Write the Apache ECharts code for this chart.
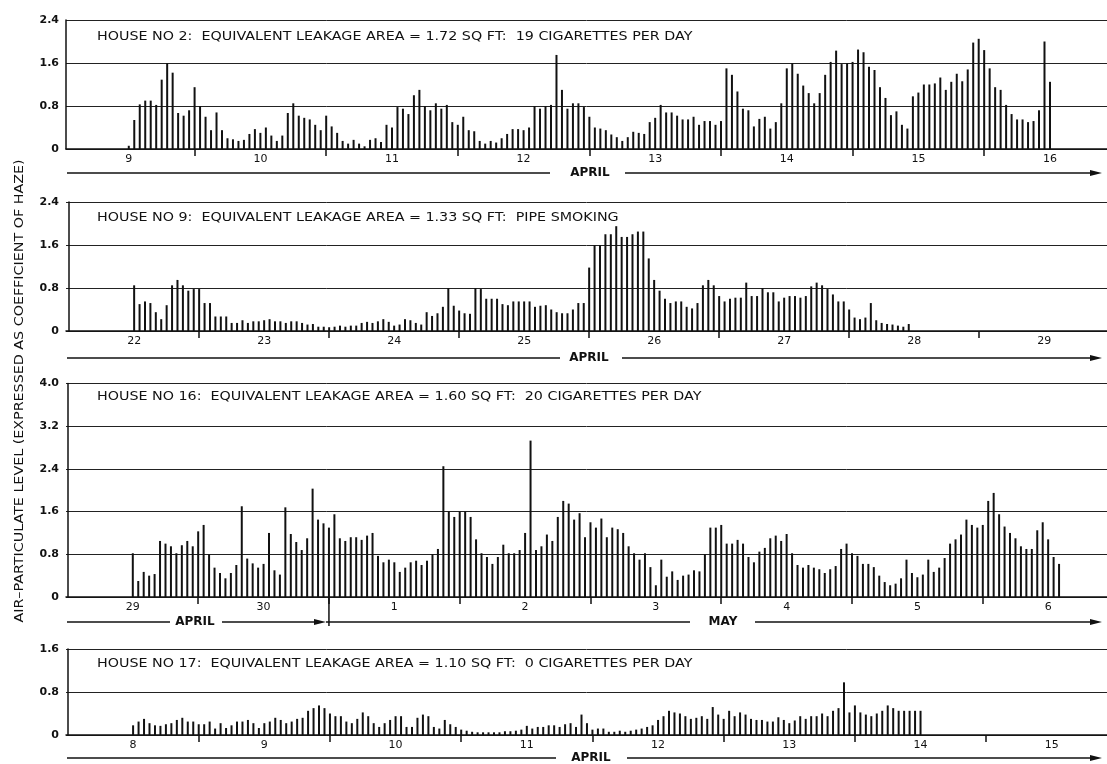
<!DOCTYPE html>
<html><head><meta charset="utf-8">
<script src="https://cdn.jsdelivr.net/npm/echarts@6/dist/echarts.min.js"></script>
<style>html,body{margin:0;padding:0;background:#fff}#c{width:1107px;height:764px}</style>
</head><body><div id="c"></div>
<script>
// ---------- DATA (hourly readings; hour 0 = midnight starting first labelled day) ----------
const house2Start = 12;
const house2Values = [0.06,0.54,0.83,0.9,0.9,0.82,1.29,1.6,1.42,0.67,0.62,0.72,1.15,0.8,0.6,0.35,0.68,0.35,0.2,0.18,0.15,0.17,0.28,0.37,0.3,0.4,0.25,0.15,0.25,0.67,0.85,0.62,0.58,0.55,0.45,0.35,0.62,0.42,0.3,0.15,0.1,0.17,0.1,0.05,0.17,0.2,0.13,0.45,0.4,0.78,0.75,0.65,
1.0,1.1,0.8,0.72,0.85,0.75,0.82,0.5,0.45,0.6,0.35,0.33,0.15,0.1,0.15,0.12,0.2,0.28,0.37,0.37,0.35,0.4,0.8,0.75,0.8,0.82,1.75,1.1,0.75,0.85,0.85,0.78,0.6,0.4,0.38,0.35,0.27,0.22,0.15,0.22,0.32,0.3,0.28,0.5,0.58,0.82,0.68,0.68,0.62,0.55,0.55,0.6,0.45,0.52,0.52,0.45,0.52,1.5,1.38,1.07,0.75,0.72,
0.42,0.56,0.6,0.38,0.5,0.85,1.5,1.6,1.4,1.18,1.04,0.85,1.04,1.38,1.62,1.83,1.58,1.6,1.62,1.85,1.8,1.53,1.47,1.15,0.95,0.63,0.7,0.45,0.38,0.98,1.05,1.2,1.2,1.22,1.33,1.1,1.25,1.4,1.26,1.48,1.98,2.05,1.84,1.5,1.15,1.1,0.82,0.65,0.55,0.55,0.5,0.52,0.72,2.0,1.25];

const house9Start = 12;
const house9Values = [0.85,0.5,0.55,0.52,0.35,0.22,0.48,0.85,0.95,0.85,0.75,0.78,0.78,0.52,0.52,0.27,0.27,0.27,0.15,0.15,0.2,0.15,0.18,0.18,0.2,0.22,0.18,0.18,0.15,0.18,0.18,0.15,0.12,0.13,0.08,0.08,0.07,0.08,0.1,0.08,0.1,0.1,0.15,0.17,0.15,0.18,0.22,0.17,
0.1,0.12,0.22,0.2,0.15,0.12,0.35,0.28,0.33,0.45,0.8,0.47,0.38,0.33,0.32,0.8,0.78,0.6,0.6,0.6,0.5,0.48,0.55,0.55,0.55,0.55,0.45,0.47,0.48,0.4,0.35,0.33,0.33,0.4,0.52,0.52,1.18,1.6,1.6,1.8,1.8,1.95,1.75,1.75,1.8,1.85,1.85,1.35,0.95,0.75,0.6,0.52,0.55,0.55,0.45,0.42,0.52,0.85,0.95,0.85,0.65,0.55,0.6,0.62,0.62,
0.9,0.65,0.65,0.8,0.72,0.72,0.55,0.62,0.65,0.65,0.62,0.65,0.83,0.9,0.85,0.78,0.68,0.55,0.55,0.4,0.25,0.22,0.25,0.52,0.2,0.15,0.13,0.12,0.1,0.08,0.13];

const house16Start = 12;
const house16Values = [0.82,0.3,0.47,0.4,0.43,1.05,1.0,0.95,0.82,0.97,1.05,0.95,1.23,1.35,0.8,0.55,0.45,0.35,0.45,0.6,1.7,0.72,0.63,0.55,0.62,1.2,0.5,0.42,1.68,1.18,1.03,0.88,1.1,2.03,1.45,1.38,1.3,1.55,1.1,1.05,1.12,1.12,1.07,1.15,1.2,0.77,0.65,0.7,0.65,
0.47,0.55,0.65,0.68,0.6,0.68,0.8,0.9,2.45,1.6,1.5,1.6,1.6,1.5,1.08,0.82,0.75,0.62,0.75,0.98,0.82,0.82,0.88,1.2,2.93,0.88,0.95,1.17,1.05,1.5,1.8,1.75,1.45,1.57,1.12,1.4,1.3,1.47,1.12,1.3,1.27,1.2,0.95,0.82,0.7,0.82,0.56,0.22,0.7,0.38,0.48,0.32,0.4,0.42,0.5,0.48,0.8,1.3,1.3,1.35,1.0,1.0,1.07,1.0,
0.75,0.65,0.85,0.92,1.1,1.15,1.05,1.18,0.82,0.6,0.55,0.6,0.55,0.52,0.45,0.52,0.58,0.9,1.0,0.82,0.77,0.62,0.62,0.56,0.4,0.28,0.22,0.25,0.35,0.7,0.45,0.37,0.42,0.7,0.47,0.55,0.73,1.0,1.08,1.17,1.45,1.35,1.3,1.35,1.8,1.95,1.55,1.32,1.2,1.1,0.95,0.9,0.9,1.25,1.4,1.08,0.75,0.62];

const house17Start = 12;
const house17Values = [0.18,0.25,0.3,0.22,0.18,0.17,0.2,0.22,0.28,0.32,0.25,0.25,0.2,0.2,0.25,0.12,0.22,0.13,0.18,0.25,0.25,0.28,0.22,0.13,0.22,0.25,0.32,0.28,0.22,0.25,0.3,0.32,0.45,0.5,0.55,0.5,0.4,0.35,0.35,0.25,0.22,0.3,0.42,0.35,0.22,0.15,0.22,0.28,0.35,0.35,
0.15,0.15,0.32,0.38,0.35,0.15,0.12,0.28,0.2,0.15,0.1,0.08,0.06,0.05,0.05,0.05,0.05,0.05,0.07,0.07,0.08,0.1,0.17,0.12,0.15,0.15,0.18,0.18,0.15,0.2,0.22,0.15,0.38,0.22,0.1,0.12,0.12,0.06,0.06,0.08,0.06,0.08,0.1,0.12,0.15,0.18,0.28,0.35,0.45,0.42,0.4,0.35,0.3,0.32,0.35,0.3,0.52,0.38,0.3,0.45,0.35,0.42,0.38,
0.3,0.28,0.28,0.25,0.25,0.33,0.28,0.22,0.27,0.35,0.3,0.35,0.35,0.4,0.35,0.45,0.5,0.98,0.42,0.55,0.42,0.38,0.35,0.4,0.45,0.55,0.5,0.45,0.45,0.45,0.45,0.45];

const house2Days = ['9','10','11','12','13','14','15','16'];
const house9Days = ['22','23','24','25','26','27','28','29'];
const house16Days = ['29','30','1','2','3','4','5','6'];
const house17Days = ['8','9','10','11','12','13','14','15'];

const yMaxes = [2.4, 2.4, 4.0, 1.6];
const titles = [
  'HOUSE NO 2:  EQUIVALENT LEAKAGE AREA = 1.72 SQ FT:  19 CIGARETTES PER DAY',
  'HOUSE NO 9:  EQUIVALENT LEAKAGE AREA = 1.33 SQ FT:  PIPE SMOKING',
  'HOUSE NO 16:  EQUIVALENT LEAKAGE AREA = 1.60 SQ FT:  20 CIGARETTES PER DAY',
  'HOUSE NO 17:  EQUIVALENT LEAKAGE AREA = 1.10 SQ FT:  0 CIGARETTES PER DAY'
];
const yAxisTitle = 'AIR\u2013PARTICULATE LEVEL (EXPRESSED AS COEFFICIENT OF HAZE)';

// ---------- LAYOUT ----------
const FONT = 'DejaVu Sans';
const INK = '#111111';
const plotLeft = 66, plotRight = 1107;

const panels = [
  {values: house2Values, start: house2Start, days: house2Days, xMin: 0.55, xMax: 190.4,
   top: 20, zero: 149, titleY: 37, monthY: 173,
   months: [{text: 'APRIL', cx: 590, segs: [[67, 550], [625, 1096]], arrowAt: 1102}]},
  {values: house9Values, start: house9Start, days: house9Days, xMin: -0.58, xMax: 191.6,
   top: 202, zero: 331, titleY: 218, monthY: 358,
   months: [{text: 'APRIL', cx: 589, segs: [[67, 560], [622, 1096]], arrowAt: 1102}]},
  {values: house16Values, start: house16Start, days: house16Days, xMin: -0.26, xMax: 190.8,
   top: 383.5, zero: 597, titleY: 397, monthY: 622,
   months: [{text: 'APRIL', cx: 195, segs: [[67, 170], [222, 318]], arrowAt: 326},
            {text: 'MAY', cx: 723, segs: [[326, 690], [755, 1096]], arrowAt: 1102}], divider: 48},
  {values: house17Values, start: house17Start, days: house17Days, xMin: -0.27, xMax: 190.1,
   top: 649, zero: 735, titleY: 664, monthY: 758,
   months: [{text: 'APRIL', cx: 591, segs: [[67, 556], [627, 1096]], arrowAt: 1102}]}
];

const labelHours = [12, 36, 60, 84, 108, 132, 156, 180];
const tickHours = [24, 48, 72, 96, 120, 144, 168];

const grid = [], xAxis = [], yAxis = [], series = [], graphic = [];
panels.forEach((p, i) => {
  const xPix = h => plotLeft + (h - p.xMin) / (p.xMax - p.xMin) * (plotRight - plotLeft);
  grid.push({left: plotLeft, right: 1107 - plotRight, top: p.top, height: p.zero - p.top});
  xAxis.push({
    type: 'value', gridIndex: i, min: p.xMin, max: p.xMax, position: 'bottom',
    axisLine: {show: true, onZero: false, lineStyle: {color: INK, width: 1.5}},
    axisTick: {show: true, customValues: tickHours, length: 7, lineStyle: {color: INK, width: 1.5}},
    axisLabel: {show: true, customValues: labelHours, margin: 5, color: INK, fontFamily: FONT, fontSize: 11,
      formatter: v => p.days[Math.round((v - 12) / 24)] || ''},
    splitLine: {show: false}
  });
  yAxis.push({
    type: 'value', gridIndex: i, min: 0, max: yMaxes[i], interval: 0.8,
    axisLine: {show: true, lineStyle: {color: INK, width: 1.5}},
    axisTick: {show: false},
    axisLabel: {margin: 7, color: INK, fontFamily: FONT, fontSize: 11, fontWeight: 'bold',
      formatter: v => v === 0 ? '0' : v.toFixed(1)},
    splitLine: {show: true, lineStyle: {color: '#222', width: 1}}
  });
  series.push({
    type: 'bar', xAxisIndex: i, yAxisIndex: i, barWidth: 2, silent: true,
    itemStyle: {color: INK},
    data: p.values.map((v, k) => [p.start + k, v])
  });
  graphic.push({type: 'text', silent: true, x: 97, y: p.titleY, scaleX: 1.19,
    style: {text: titles[i], fill: INK, font: '12px "' + FONT + '"', align: 'left', verticalAlign: 'middle',
      textAlign: 'left', textVerticalAlign: 'middle'}});
  p.months.forEach(m => {
    m.segs.forEach(s => graphic.push({type: 'line', silent: true,
      shape: {x1: s[0], y1: p.monthY, x2: s[1], y2: p.monthY}, style: {stroke: INK, lineWidth: 1.5}}));
    graphic.push({type: 'polygon', silent: true,
      shape: {points: [[m.arrowAt, p.monthY], [m.arrowAt - 12, p.monthY - 3], [m.arrowAt - 12, p.monthY + 3]]},
      style: {fill: INK}});
    graphic.push({type: 'text', silent: true, x: m.cx, y: p.monthY,
      style: {text: m.text, fill: INK, font: 'bold 12px "' + FONT + '"', align: 'center', verticalAlign: 'middle',
        textAlign: 'center', textVerticalAlign: 'middle'}});
  });
  if (p.divider !== undefined) {
    const x = xPix(p.divider);
    graphic.push({type: 'line', silent: true, shape: {x1: x, y1: p.zero, x2: x, y2: p.monthY + 4},
      style: {stroke: INK, lineWidth: 1.5}});
  }
});

graphic.push({type: 'text', silent: true, x: 20, y: 391, rotation: Math.PI / 2, scaleX: 1.19,
  style: {text: yAxisTitle, fill: INK, font: '12px "' + FONT + '"', align: 'center', verticalAlign: 'middle',
    textAlign: 'center', textVerticalAlign: 'middle'}});

const chart = echarts.init(document.getElementById('c'), null, {renderer: 'canvas'});
chart.setOption({
  backgroundColor: '#ffffff',
  animation: false,
  grid, xAxis, yAxis, series, graphic
});
</script></body></html>
